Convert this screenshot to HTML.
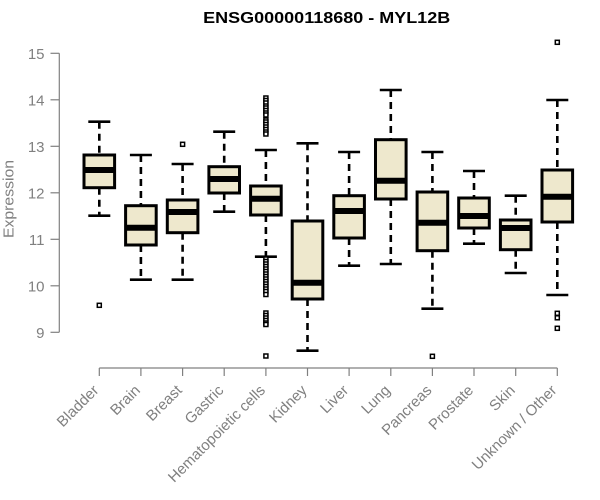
<!DOCTYPE html>
<html><head><meta charset="utf-8"><style>
html,body{margin:0;padding:0;background:#fff;}
svg{display:block;}
text{font-family:"Liberation Sans",Arial,sans-serif;}
</style></head><body>
<svg width="600" height="500" viewBox="0 0 600 500" xmlns="http://www.w3.org/2000/svg">
<rect width="600" height="500" fill="#fff"/>
<text x="326.7" y="23" text-anchor="middle" font-size="16" font-weight="bold" fill="#000" textLength="247" lengthAdjust="spacingAndGlyphs">ENSG00000118680 - MYL12B</text>
<!-- y axis -->
<g stroke="#808080" stroke-width="1.2" fill="none">
<line x1="59.3" y1="53.3" x2="59.3" y2="332.3"/>
<line x1="50.5" y1="53.3" x2="59.3" y2="53.3"/>
<line x1="50.5" y1="99.8" x2="59.3" y2="99.8"/>
<line x1="50.5" y1="146.3" x2="59.3" y2="146.3"/>
<line x1="50.5" y1="192.8" x2="59.3" y2="192.8"/>
<line x1="50.5" y1="239.3" x2="59.3" y2="239.3"/>
<line x1="50.5" y1="285.8" x2="59.3" y2="285.8"/>
<line x1="50.5" y1="332.3" x2="59.3" y2="332.3"/>
</g>
<g font-size="15" fill="#808080" text-anchor="end">
<text x="44.5" y="58.8">15</text>
<text x="44.5" y="105.3">14</text>
<text x="44.5" y="151.8">13</text>
<text x="44.5" y="198.3">12</text>
<text x="44.5" y="244.8">11</text>
<text x="44.5" y="291.3">10</text>
<text x="44.5" y="337.8">9</text>
</g>
<text transform="translate(13.5,199) rotate(-90)" text-anchor="middle" font-size="15" fill="#808080" textLength="78" lengthAdjust="spacingAndGlyphs">Expression</text>
<!-- x axis -->
<g stroke="#808080" stroke-width="1.2" fill="none">
<line x1="99.3" y1="368" x2="557.3" y2="368"/>
<line x1="99.3" y1="368" x2="99.3" y2="376"/>
<line x1="140.9" y1="368" x2="140.9" y2="376"/>
<line x1="182.6" y1="368" x2="182.6" y2="376"/>
<line x1="224.2" y1="368" x2="224.2" y2="376"/>
<line x1="265.9" y1="368" x2="265.9" y2="376"/>
<line x1="307.5" y1="368" x2="307.5" y2="376"/>
<line x1="349.1" y1="368" x2="349.1" y2="376"/>
<line x1="390.8" y1="368" x2="390.8" y2="376"/>
<line x1="432.4" y1="368" x2="432.4" y2="376"/>
<line x1="474.0" y1="368" x2="474.0" y2="376"/>
<line x1="515.7" y1="368" x2="515.7" y2="376"/>
<line x1="557.3" y1="368" x2="557.3" y2="376"/>
</g>
<g font-size="15" fill="#808080" text-anchor="end">
<text transform="translate(96.3,388) rotate(-45)" dy="0.3em">Bladder</text>
<text transform="translate(137.9,388) rotate(-45)" dy="0.3em">Brain</text>
<text transform="translate(179.6,388) rotate(-45)" dy="0.3em">Breast</text>
<text transform="translate(221.2,388) rotate(-45)" dy="0.3em">Gastric</text>
<text transform="translate(262.9,388) rotate(-45)" dy="0.3em">Hematopoietic cells</text>
<text transform="translate(304.5,388) rotate(-45)" dy="0.3em">Kidney</text>
<text transform="translate(346.1,388) rotate(-45)" dy="0.3em">Liver</text>
<text transform="translate(387.8,388) rotate(-45)" dy="0.3em">Lung</text>
<text transform="translate(429.4,388) rotate(-45)" dy="0.3em">Pancreas</text>
<text transform="translate(471.0,388) rotate(-45)" dy="0.3em">Prostate</text>
<text transform="translate(512.7,388) rotate(-45)" dy="0.3em">Skin</text>
<text transform="translate(554.3,388) rotate(-45)" dy="0.3em">Unknown / Other</text>
</g>
<!-- boxes -->
<g id="boxes" stroke="#000" fill="none">
</g>
<g stroke="#000" stroke-width="2.6">
<!-- whiskers dashed -->
<g stroke-dasharray="7,5">
<line x1="99.3" y1="121.7" x2="99.3" y2="155"/><line x1="99.3" y1="187.7" x2="99.3" y2="215.7"/>
<line x1="140.9" y1="155" x2="140.9" y2="205.7"/><line x1="140.9" y1="245" x2="140.9" y2="279.7"/>
<line x1="182.6" y1="164" x2="182.6" y2="200"/><line x1="182.6" y1="232.7" x2="182.6" y2="279.7"/>
<line x1="224.2" y1="131.7" x2="224.2" y2="166.7"/><line x1="224.2" y1="193" x2="224.2" y2="211.7"/>
<line x1="265.9" y1="150" x2="265.9" y2="186"/><line x1="265.9" y1="215" x2="265.9" y2="256.7"/>
<line x1="307.5" y1="143.3" x2="307.5" y2="221"/><line x1="307.5" y1="299" x2="307.5" y2="350.7"/>
<line x1="349.1" y1="152" x2="349.1" y2="195.7"/><line x1="349.1" y1="238" x2="349.1" y2="265.7"/>
<line x1="390.8" y1="90" x2="390.8" y2="139.7"/><line x1="390.8" y1="199" x2="390.8" y2="264"/>
<line x1="432.4" y1="152" x2="432.4" y2="192"/><line x1="432.4" y1="250.7" x2="432.4" y2="308.7"/>
<line x1="474.0" y1="171" x2="474.0" y2="198"/><line x1="474.0" y1="228" x2="474.0" y2="243.7"/>
<line x1="515.7" y1="195.7" x2="515.7" y2="220"/><line x1="515.7" y1="249.7" x2="515.7" y2="273"/>
<line x1="557.3" y1="100" x2="557.3" y2="170"/><line x1="557.3" y1="222" x2="557.3" y2="295"/>
</g>
<!-- staples -->
<line x1="88.3" y1="121.7" x2="110.3" y2="121.7"/><line x1="88.3" y1="215.7" x2="110.3" y2="215.7"/>
<line x1="129.9" y1="155" x2="151.9" y2="155"/><line x1="129.9" y1="279.7" x2="151.9" y2="279.7"/>
<line x1="171.6" y1="164" x2="193.6" y2="164"/><line x1="171.6" y1="279.7" x2="193.6" y2="279.7"/>
<line x1="213.2" y1="131.7" x2="235.2" y2="131.7"/><line x1="213.2" y1="211.7" x2="235.2" y2="211.7"/>
<line x1="254.9" y1="150" x2="276.9" y2="150"/><line x1="254.9" y1="256.7" x2="276.9" y2="256.7"/>
<line x1="296.5" y1="143.3" x2="318.5" y2="143.3"/><line x1="296.5" y1="350.7" x2="318.5" y2="350.7"/>
<line x1="338.1" y1="152" x2="360.1" y2="152"/><line x1="338.1" y1="265.7" x2="360.1" y2="265.7"/>
<line x1="379.8" y1="90" x2="401.8" y2="90"/><line x1="379.8" y1="264" x2="401.8" y2="264"/>
<line x1="421.4" y1="152" x2="443.4" y2="152"/><line x1="421.4" y1="308.7" x2="443.4" y2="308.7"/>
<line x1="463.0" y1="171" x2="485.0" y2="171"/><line x1="463.0" y1="243.7" x2="485.0" y2="243.7"/>
<line x1="504.7" y1="195.7" x2="526.7" y2="195.7"/><line x1="504.7" y1="273" x2="526.7" y2="273"/>
<line x1="546.3" y1="100" x2="568.3" y2="100"/><line x1="546.3" y1="295" x2="568.3" y2="295"/>
</g>
<g fill="#EEE8CD" stroke="#000" stroke-width="3">
<rect x="84" y="155" width="30.6" height="32.7"/>
<rect x="125.6" y="205.7" width="30.6" height="39.3"/>
<rect x="167.3" y="200" width="30.6" height="32.7"/>
<rect x="208.9" y="166.7" width="30.6" height="26.3"/>
<rect x="250.6" y="186" width="30.6" height="29"/>
<rect x="292.2" y="221" width="30.6" height="78"/>
<rect x="333.8" y="195.7" width="30.6" height="42.3"/>
<rect x="375.5" y="139.7" width="30.6" height="59.3"/>
<rect x="417.1" y="192" width="30.6" height="58.7"/>
<rect x="458.7" y="198" width="30.6" height="30"/>
<rect x="500.4" y="220" width="30.6" height="29.7"/>
<rect x="542" y="170" width="30.6" height="52"/>
</g>
<g stroke="#000" stroke-width="6">
<line x1="84" y1="170" x2="114.6" y2="170"/>
<line x1="125.6" y1="227.7" x2="156.2" y2="227.7"/>
<line x1="167.3" y1="212" x2="197.9" y2="212"/>
<line x1="208.9" y1="179" x2="239.5" y2="179"/>
<line x1="250.6" y1="198.7" x2="281.2" y2="198.7"/>
<line x1="292.2" y1="282.7" x2="322.8" y2="282.7"/>
<line x1="333.8" y1="211" x2="364.4" y2="211"/>
<line x1="375.5" y1="180.7" x2="406.1" y2="180.7"/>
<line x1="417.1" y1="222.7" x2="447.7" y2="222.7"/>
<line x1="458.7" y1="216" x2="489.3" y2="216"/>
<line x1="500.4" y1="228" x2="531" y2="228"/>
<line x1="542" y1="196.7" x2="572.6" y2="196.7"/>
</g>
<!-- outliers -->
<g fill="#fff" stroke="#000" stroke-width="1.5">
<rect x="97.3" y="303.3" width="4" height="4"/>
<rect x="180.6" y="142.3" width="4" height="4"/>
<rect x="430.4" y="354.3" width="4" height="4"/>
<rect x="555.3" y="40.3" width="4" height="4"/>
<rect x="555.3" y="311.3" width="4" height="4"/>
<rect x="555.3" y="315.8" width="4" height="4"/>
<rect x="555.3" y="326.3" width="4" height="4"/>
<!-- hematopoietic -->
<rect x="263.9" y="96" width="4" height="4"/>
<rect x="263.9" y="98.5" width="4" height="4"/>
<rect x="263.9" y="101" width="4" height="4"/>
<rect x="263.9" y="104" width="4" height="4"/>
<rect x="263.9" y="106" width="4" height="4"/>
<rect x="263.9" y="108.5" width="4" height="4"/>
<rect x="263.9" y="111" width="4" height="4"/>
<rect x="263.9" y="113" width="4" height="4"/>
<rect x="263.9" y="118" width="4" height="4"/>
<rect x="263.9" y="120" width="4" height="4"/>
<rect x="263.9" y="122.5" width="4" height="4"/>
<rect x="263.9" y="125" width="4" height="4"/>
<rect x="263.9" y="127.5" width="4" height="4"/>
<rect x="263.9" y="130" width="4" height="4"/>
<rect x="263.9" y="132" width="4" height="4"/>
<rect x="263.9" y="257" width="4" height="4"/>
<rect x="263.9" y="259.5" width="4" height="4"/>
<rect x="263.9" y="262" width="4" height="4"/>
<rect x="263.9" y="264.5" width="4" height="4"/>
<rect x="263.9" y="267" width="4" height="4"/>
<rect x="263.9" y="269.5" width="4" height="4"/>
<rect x="263.9" y="272" width="4" height="4"/>
<rect x="263.9" y="274.5" width="4" height="4"/>
<rect x="263.9" y="277" width="4" height="4"/>
<rect x="263.9" y="279.5" width="4" height="4"/>
<rect x="263.9" y="282" width="4" height="4"/>
<rect x="263.9" y="284.5" width="4" height="4"/>
<rect x="263.9" y="287" width="4" height="4"/>
<rect x="263.9" y="289.5" width="4" height="4"/>
<rect x="263.9" y="292.5" width="4" height="4"/>
<rect x="263.9" y="311" width="4" height="4"/>
<rect x="263.9" y="313.5" width="4" height="4"/>
<rect x="263.9" y="316" width="4" height="4"/>
<rect x="263.9" y="318.5" width="4" height="4"/>
<rect x="263.9" y="321" width="4" height="4"/>
<rect x="263.9" y="322.5" width="4" height="4"/>
<rect x="263.9" y="354" width="4" height="4"/>
</g>
</svg>
</body></html>
